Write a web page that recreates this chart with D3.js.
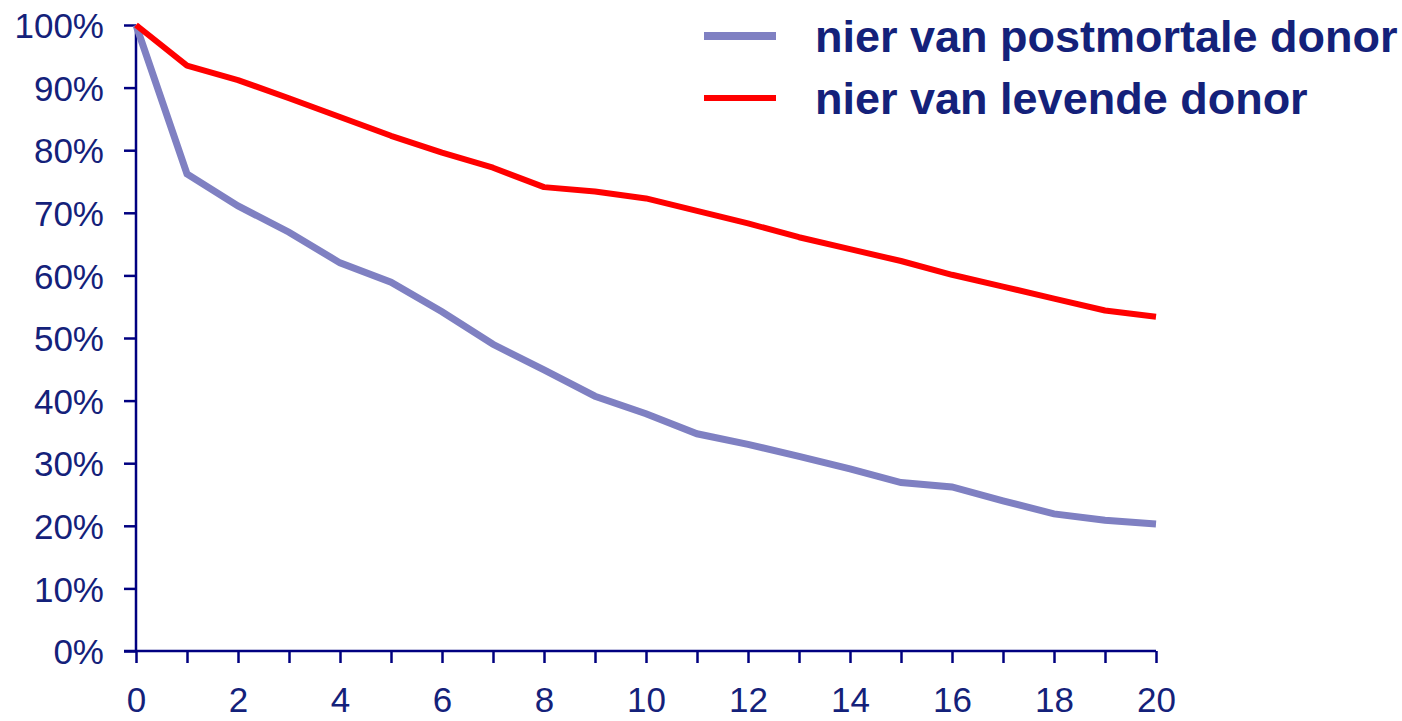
<!DOCTYPE html>
<html>
<head>
<meta charset="utf-8">
<script src="https://cdn.jsdelivr.net/npm/d3@7"></script>
<style>
  body { margin: 0; background: #fff; }
  svg text { font-family: "Liberation Sans", Arial, sans-serif; }
</style>
</head>
<body>
<div id="chart"></div>
<script>
// years after transplant
var years = d3.range(0, 21);
// graft survival, kidney from deceased donor (%)
var postmortaal = [100, 76.2, 71.1, 66.9, 62.0, 58.9, 54.2, 49.0, 44.9, 40.7, 37.9,
                   34.7, 33.0, 31.1, 29.1, 26.9, 26.2, 24.0, 21.9, 20.9, 20.3];
// graft survival, kidney from living donor (%)
var levend = [100, 93.5, 91.2, 88.3, 85.3, 82.3, 79.6, 77.2, 74.1, 73.4, 72.3,
              70.3, 68.3, 66.1, 64.2, 62.3, 60.1, 58.2, 56.3, 54.4, 53.4];
var seriesNames = ["nier van postmortale donor", "nier van levende donor"];
var yTicks = [0, 10, 20, 30, 40, 50, 60, 70, 80, 90, 100];
var xTickLabels = [0, 2, 4, 6, 8, 10, 12, 14, 16, 18, 20];

var W = 1402, H = 721;
var margin = {top: 25, left: 136, right: 246, bottom: 70};
var width = W - margin.left - margin.right;
var height = H - margin.top - margin.bottom;

var axisColor = "#000080";
var textColor = "#14217a";
var blue = "#7f80c2";
var red = "#ff0000";

var svg = d3.select("#chart").append("svg")
    .attr("width", W)
    .attr("height", H);

var g = svg.append("g")
    .attr("transform", "translate(" + margin.left + "," + margin.top + ")");

var x = d3.scaleLinear().domain([0, 20]).range([0, width]);
var y = d3.scaleLinear().domain([0, 100]).range([height, 0]);

// y axis
var yAxis = g.append("g")
    .call(d3.axisLeft(y).tickValues(yTicks).tickSize(12).tickPadding(20)
        .tickFormat(function(d) { return d + "%"; }));
yAxis.select(".domain").remove();
yAxis.append("line")
    .attr("x1", 0).attr("x2", 0)
    .attr("y1", 0).attr("y2", height)
    .attr("stroke", axisColor).attr("stroke-width", 2.5);
yAxis.selectAll(".tick line").attr("stroke", axisColor).attr("stroke-width", 2.5);
yAxis.selectAll(".tick text")
    .attr("fill", textColor)
    .style("font-size", "35px")
    .attr("dy", "0.36em");

// x axis
var xAxis = g.append("g")
    .attr("transform", "translate(0," + height + ")")
    .call(d3.axisBottom(x).tickValues(years).tickSize(12).tickPadding(24)
        .tickFormat(function(d) { return xTickLabels.indexOf(d) >= 0 ? d : ""; }));
xAxis.select(".domain").remove();
xAxis.append("line")
    .attr("x1", -12).attr("x2", width)
    .attr("y1", 0).attr("y2", 0)
    .attr("stroke", axisColor).attr("stroke-width", 2.5);
xAxis.selectAll(".tick line").attr("stroke", axisColor).attr("stroke-width", 2.5);
xAxis.selectAll(".tick text")
    .attr("fill", textColor)
    .style("font-size", "35px");

var line = d3.line()
    .x(function(d, i) { return x(years[i]); })
    .y(function(d) { return y(d); });

g.append("path")
    .datum(postmortaal)
    .attr("fill", "none")
    .attr("stroke", blue)
    .attr("stroke-width", 7)
    .attr("stroke-linejoin", "miter")
    .attr("d", line);

g.append("path")
    .datum(levend)
    .attr("fill", "none")
    .attr("stroke", red)
    .attr("stroke-width", 6)
    .attr("stroke-linejoin", "round")
    .attr("d", line);

// legend
var legend = svg.append("g");
var legendColors = [blue, red];
var legendWidths = [8, 6];
seriesNames.forEach(function(name, i) {
    var ly = 36 + i * 62;
    legend.append("line")
        .attr("x1", 704).attr("x2", 776)
        .attr("y1", ly).attr("y2", ly)
        .attr("stroke", legendColors[i])
        .attr("stroke-width", legendWidths[i]);
    legend.append("text")
        .attr("x", 815)
        .attr("y", ly + 16)
        .attr("fill", textColor)
        .style("font-size", "45px")
        .style("font-weight", "bold")
        .text(name);
});
</script>
</body>
</html>
